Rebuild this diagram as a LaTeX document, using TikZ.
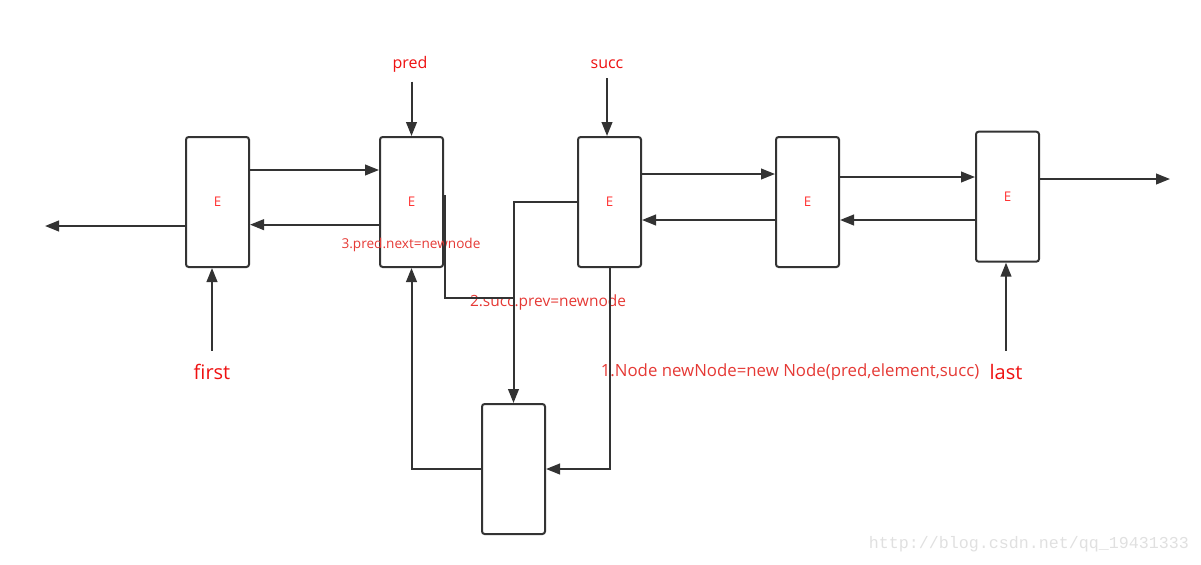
\documentclass[tikz,border=0pt]{standalone}
\usepackage{fontspec}
\setmainfont{Open Sans}
\newfontfamily\webfont{Liberation Mono}
\usetikzlibrary{arrows.meta,positioning}
\definecolor{cline}{HTML}{333333}
\definecolor{cred}{HTML}{EE1111}
\definecolor{celem}{HTML}{FF3333}
\definecolor{cnote}{HTML}{E53935}
\definecolor{cmark}{HTML}{E0E0E0}

\begin{document}
\begin{tikzpicture}[x=0.75pt,y=-0.75pt,
  elem/.style={rectangle,rounded corners=2pt,draw=cline,line width=1.5pt,minimum width=47.25pt,minimum height=97.5pt,inner sep=0pt,text=celem,font=\fontsize{10}{11}\selectfont},
  ptr/.style={text=cred,inner sep=0pt,font=\fontsize{12}{14}\selectfont},
  tag/.style={text=cred,inner sep=0pt,font=\fontsize{15}{18}\selectfont},
  note/.style={text=cnote,inner sep=0pt},
  arr/.style={-{Triangle[length=10.5pt,width=8pt]},line width=1.5pt,cline},
  lnk/.style={line width=1.5pt,cline}]

  \useasboundingbox (0,0) rectangle (1201,564);

  % elementos de la lista
  \node[elem] (b1) at (217.5,202) {E};
  \node[elem,right=96.75pt of b1] (b2) {E};
  \node[elem,right=99.75pt of b2] (b3) {E};
  \node[elem,right=99.75pt of b3] (b4) {E};
  \node[elem,right=101.25pt of b4,yshift=4pt,text depth=-5pt] (b5) {E};
  % nodo nuevo
  \node[elem] (nn) at (513.5,469) {};

  % punteros
  \node[ptr] (pred) at (410,64) {pred};
  \node[ptr] (succ) at (607,64) {succ};
  \node[tag] (first) at (212,372) {first};
  \node[tag] (last) at (1006,372) {last};

  % pasos
  \node[note,font=\fontsize{10.2}{12}\selectfont] (n3) at (411,245) {3.pred.next=newnode};
  \node[note,font=\fontsize{11.6}{13}\selectfont] (n2) at (548,302) {2.succ.prev=newnode};
  \node[note,font=\fontsize{12.6}{14}\selectfont] (n1) at (790,372) {1.Node newNode=new Node(pred,element,succ)};
  \node[text=cmark,font=\webfont\fontsize{12.5}{14}\selectfont] (mark) at (1029,544) {http://blog.csdn.net/qq\_19431333};

  \coordinate (lend) at (45,226);
  \coordinate (rend) at (1170,179);
  \coordinate (meet) at (513.5,298);

  % enlaces next / prev
  \draw[arr] ([yshift=24pt]b1.east) -- ([yshift=24pt]b2.west);
  \draw[arr] ([yshift=-17pt]b2.west) -- ([yshift=-17pt]b1.east);
  \draw[arr] ([yshift=21pt]b3.east) -- ([yshift=21pt]b4.west);
  \draw[arr] ([yshift=-13.5pt]b4.west) -- ([yshift=-13.5pt]b3.east);
  \draw[arr] ([yshift=18.75pt]b4.east) -- ([yshift=18.75pt]b4.east -| b5.west);
  \draw[arr] ([yshift=-13.5pt]b4.east -| b5.west) -- ([yshift=-13.5pt]b4.east);
  \draw[arr] (b1.west |- lend) -- (lend);
  \draw[arr] (b5.east |- rend) -- (rend);

  % punteros a nodos
  \draw[arr,shorten <=7pt] (pred.south -| b2.north) -- (b2.north);
  \draw[arr,shorten <=7pt] (succ.south) -- (succ.south |- b3.north);
  \draw[arr,shorten <=10pt] (first.north) -- (first.north |- b1.south);
  \draw[arr,shorten <=10pt] (last.north) -- (last.north |- b5.south);

  % insercion
  \draw[arr] (b3.west) -| (nn.north);
  \draw[arr] (b3.south) |- (nn.east);
  \draw[arr] (nn.west) -| (b2.south);
  \draw[lnk] ([xshift=1pt,yshift=5.25pt]b2.east) |- (meet);
\end{tikzpicture}
\end{document}
